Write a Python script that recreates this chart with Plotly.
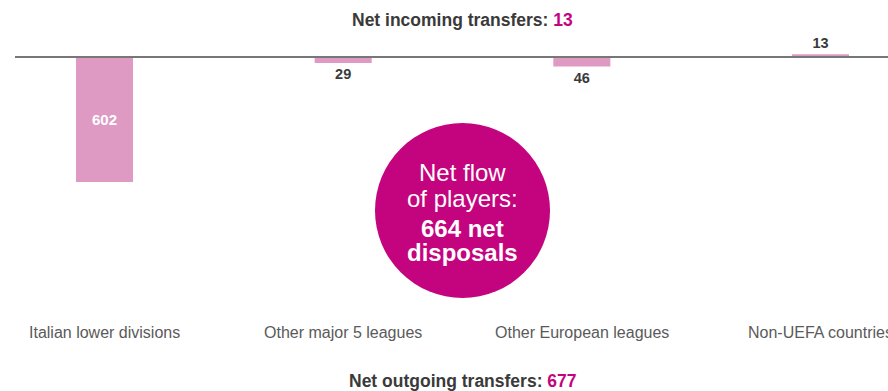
import plotly.graph_objects as go

# data
categories = ["Italian lower divisions", "Other major 5 leagues",
              "Other European leagues", "Non-UEFA countries"]
net_values = [-602, -29, -46, 13]
label_values = [602, 29, 46, 13]
incoming_total = 13
outgoing_total = 677
net_flow = 664

W, H = 888, 391
PINK = "#df9ac4"
MAGENTA = "#c4047e"
DARK = "#3a3a3a"
FONT = "Liberation Sans, Arial, sans-serif"


def py(px):
    # pixel row -> paper y
    return 1 - px / H


fig = go.Figure(go.Bar(
    x=categories,
    y=net_values,
    width=0.239,
    marker=dict(color=PINK, line=dict(width=0)),
    text=label_values,
    textposition=["inside", "outside", "outside", "outside"],
    insidetextanchor="middle",
    insidetextfont=dict(family=FONT, size=15, color="white", weight="bold"),
    outsidetextfont=dict(family=FONT, size=14.5, color=DARK, weight="bold"),
    cliponaxis=False,
    hoverinfo="skip",
))

# zero line
fig.add_shape(type="line", xref="paper", yref="y",
              x0=15 / W, x1=1, y0=0, y1=0,
              line=dict(color="#777777", width=2))

# net flow bubble
fig.add_shape(type="circle", xref="paper", yref="paper",
              x0=375 / W, x1=550 / W, y0=py(298), y1=py(123),
              fillcolor=MAGENTA, line=dict(width=0), layer="above")

bubble_lines = [
    ("Net flow", 172),
    ("of players:", 198),
    (f"<b>{net_flow} net</b>", 228),
    ("<b>disposals</b>", 252),
]
for txt, ypx in bubble_lines:
    fig.add_annotation(text=txt, xref="paper", yref="paper",
                       x=462.5 / W, y=py(ypx), showarrow=False,
                       xanchor="center", yanchor="middle",
                       font=dict(family=FONT, size=24, color="white"))

# category labels
for c in categories:
    fig.add_annotation(text=c, x=c, xref="x", yref="paper", y=py(332),
                       showarrow=False, xanchor="center", yanchor="middle",
                       font=dict(family=FONT, size=16, color="#5a5a5a"))

fig.add_annotation(
    text=f"<b>Net incoming transfers: <span style='color:{MAGENTA}'>{incoming_total}</span></b>",
    xref="paper", yref="paper", x=462.5 / W, y=py(19.5), showarrow=False,
    xanchor="center", yanchor="middle",
    font=dict(family=FONT, size=17.5, color=DARK))
fig.add_annotation(
    text=f"<b>Net outgoing transfers: <span style='color:{MAGENTA}'>{outgoing_total}</span></b>",
    xref="paper", yref="paper", x=463 / W, y=py(381), showarrow=False,
    xanchor="center", yanchor="middle",
    font=dict(family=FONT, size=17.5, color=DARK))

# 0 sits at 57px, -602 at 182px
scale = 125 / 602
fig.update_layout(
    width=W, height=H,
    margin=dict(l=0, r=0, t=0, b=0),
    paper_bgcolor="white", plot_bgcolor="white",
    showlegend=False,
    xaxis=dict(visible=False, range=[-104.5 / 238.67, (W - 104.5) / 238.67]),
    yaxis=dict(visible=False, range=[-(H - 57) / scale, 57 / scale]),
)

fig.write_html("out.html",
               config={"displayModeBar": False, "staticPlot": True},
               post_script="document.body.style.margin='0';document.body.style.overflow='hidden';")
